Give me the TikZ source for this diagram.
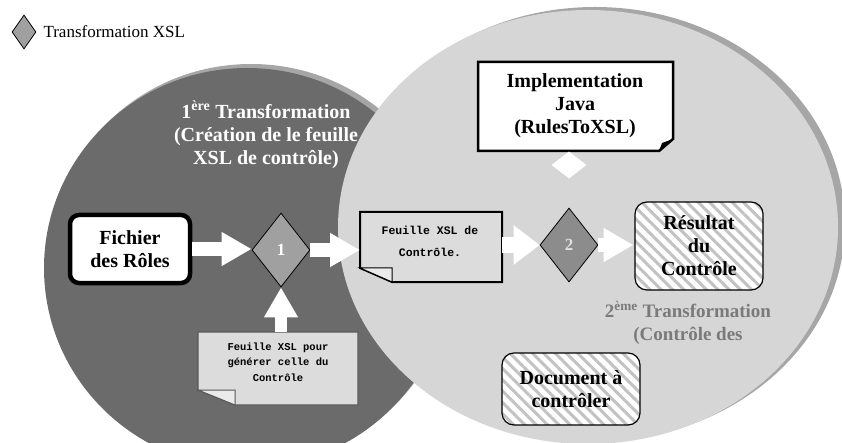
\documentclass[tikz,border=0pt]{standalone}
\usepackage{fontspec}
\setmainfont{Liberation Serif}
\setmonofont{Liberation Mono}
\usetikzlibrary{shapes.geometric,arrows.meta,patterns.meta,calc}

\definecolor{darkzone}{HTML}{6B6B6B}
\definecolor{lightzone}{HTML}{D6D6D6}
\definecolor{zoneshadow}{HTML}{A6A6A6}
\definecolor{diamA}{HTML}{A0A0A0}
\definecolor{diamB}{HTML}{8C8C8C}
\definecolor{notefill}{HTML}{DCDCDC}
\definecolor{hatchgray}{HTML}{C2C2C2}
\definecolor{captiongray}{HTML}{7A7A7A}

\newcommand\diagfont{\bfseries\fontsize{20}{23}\selectfont}
\newcommand\notefont{\ttfamily\bfseries\fontsize{11.5}{22}\selectfont}
\newcommand\smallnotefont{\ttfamily\bfseries\fontsize{10.5}{15.5}\selectfont}

\pgfdeclarelayer{zones}
\pgfdeclarelayer{boxes}
\pgfsetlayers{zones,boxes,main}

\tikzset{
  xsldiamond/.style={diamond, draw=black, line width=0.8pt, inner sep=0pt,
    minimum width=58pt, minimum height=74pt, text=white,
    font=\bfseries\fontsize{17}{20}\selectfont},
  hatchbox/.style={draw=black, line width=1.2pt, rounded corners=12pt,
    preaction={fill=white},
    pattern={Lines[angle=-45,distance=8pt,line width=3pt]},
    pattern color=hatchgray, inner sep=0pt, align=center, font=\diagfont},
  geombox/.style={inner sep=0pt, outer sep=0pt},
  blockarrow/.style={draw=white, line width=14pt,
    -{Triangle[length=30pt,width=32pt]}},
}

\begin{document}
\begin{tikzpicture}[x=1pt,y=-1pt]
\useasboundingbox (0,0) rectangle (842,443);

% the two transformation zones, each with its offset shadow
\begin{pgfonlayer}{zones}
  \fill[zoneshadow] (251,264) ellipse [x radius=203, y radius=200];
  \fill[darkzone] (247,268) ellipse [x radius=203, y radius=200];
  \fill[zoneshadow] (595,224) ellipse [x radius=250, y radius=217];
  \fill[lightzone] (588,227) ellipse [x radius=250, y radius=217];
\end{pgfonlayer}

% legend
\node[xsldiamond, fill=diamA, minimum width=24pt, minimum height=34pt] (legend) at (24,32) {};
\node[anchor=west, font=\fontsize{17}{20}\selectfont] (legendtext) at (40,32) {Transformation XSL};

% zone titles
\node[font=\diagfont, text=white, align=center] (title1) at (266,135)
  {1\textsuperscript{ère} Transformation\\(Création de le feuille\\XSL de contrôle)};
\node[font=\bfseries\fontsize{19}{23}\selectfont, text=captiongray, align=center] (title2) at (688,323)
  {2\textsuperscript{ème} Transformation\\(Contrôle des};

% input file
\node[draw=black, line width=4.5pt, rounded corners=9pt, fill=white,
  minimum width=120pt, minimum height=68pt, inner sep=0pt, align=center,
  font=\diagfont] (roles) at (130,249) {Fichier\\des Rôles};

% transformations
\node[xsldiamond, fill=diamA] (d1) at (281,250) {1};
\node[xsldiamond, fill=diamB, text=white!88!black] (d2) at (569,245) {2};

% Java implementation note and its link
\node[geombox, minimum width=195pt, minimum height=89pt] (impl) at (575.5,106.5) {};
\node[font=\diagfont, align=center] (impltext) at (575,106) {Implementation\\Java\\(RulesToXSL)};
\node[diamond, fill=white, minimum width=35pt, minimum height=27pt, inner sep=0pt] (link) at (569,165) {};

% stylesheets
\node[geombox, minimum width=142pt, minimum height=70pt] (ctrl) at (431,247) {};
\node[font=\notefont, align=center] (ctrltext) at (430,241) {Feuille XSL de\\Contrôle.};
\node[geombox, minimum width=160pt, minimum height=73pt] (pour) at (278,368.5) {};
\node[font=\smallnotefont, align=center] (pourtext) at (278,362) {Feuille XSL pour\\générer celle du\\Contrôle};

% documents
\node[hatchbox, minimum width=128pt, minimum height=88pt] (res) at (699,246) {Résultat\\du\\Contrôle};
\node[hatchbox, minimum width=138pt, minimum height=72pt] (doc) at (571,389) {Document à\\contrôler};

% note shapes with folded corners
\begin{pgfonlayer}{boxes}
  \filldraw[fill=white, draw=black, line width=2.5pt, line join=miter]
    (impl.north west) -- (impl.north east) -- ($(impl.south east)+(0,-12)$)
    -- ($(impl.south east)+(-14,0)$) -- (impl.south west) -- cycle;
  \fill[black] ($(impl.south east)+(0,-12)$) -- ($(impl.south east)+(-14,0)$)
    -- ($(impl.south east)+(-11,-8)$) -- cycle;

  \filldraw[fill=notefill, draw=black, line width=2pt]
    (ctrl.north west) -- (ctrl.north east) -- (ctrl.south east)
    -- ($(ctrl.south west)+(32,0)$) -- ($(ctrl.south west)+(0,-14)$) -- cycle;
  \filldraw[fill=white!92!black, draw=black, line width=1pt]
    ($(ctrl.south west)+(0,-14)$) -- ($(ctrl.south west)+(32,-14)$)
    -- ($(ctrl.south west)+(32,0)$) -- cycle;

  \filldraw[fill=notefill, draw=black!65, line width=1.2pt]
    (pour.north west) -- (pour.north east) -- (pour.south east)
    -- ($(pour.south west)+(37,0)$) -- ($(pour.south west)+(0,-15)$) -- cycle;
  \filldraw[fill=white!92!black, draw=black!65, line width=1pt]
    ($(pour.south west)+(0,-15)$) -- ($(pour.south west)+(37,-15)$)
    -- ($(pour.south west)+(37,0)$) -- cycle;
\end{pgfonlayer}

% flow
\draw[blockarrow] (roles.east) -- (roles.east -| d1.west);
\draw[blockarrow] (d1.east) -- (d1.east -| ctrl.west);
\draw[blockarrow, line width=12pt] (d1.south |- pour.north) -- (d1.south);
\draw[blockarrow, line width=16pt, -{Triangle[length=26pt,width=38pt]}]
  (ctrl.east |- d2.west) -- (d2.west);
\draw[blockarrow] (d2.east) -- (d2.east -| res.west);
\end{tikzpicture}
\end{document}
